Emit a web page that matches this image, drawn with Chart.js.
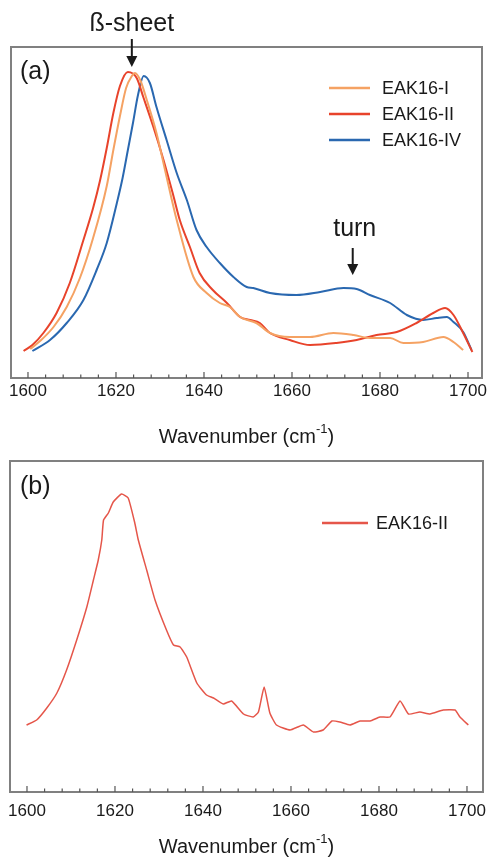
<!DOCTYPE html>
<html>
<head>
<meta charset="utf-8">
<script src="https://cdn.jsdelivr.net/npm/chart.js@4.4.1/dist/chart.umd.min.js"></script>
<style>
  html, body { margin: 0; padding: 0; background: #fff; }
  body { width: 489px; height: 857px; position: relative; overflow: hidden; }
  canvas { position: absolute; left: 0; }
  #chartA { top: 0; }
  #chartB { top: 450px; }
</style>
</head>
<body>
<canvas id="chartA" width="489" height="450"></canvas>
<canvas id="chartB" width="489" height="407"></canvas>
<script>
// define data (absorbance in arbitrary units)
const wnI = [1600.5, 1603, 1605.8, 1608.8, 1611.8, 1614.8, 1617.9, 1619.4, 1620.9, 1622.3, 1623.6, 1624.3, 1625.5, 1627, 1629.2, 1631.3, 1633.8, 1637.6, 1640.6, 1643.6, 1645.9, 1648.2, 1651.9, 1655, 1659.5, 1664.1, 1669.4, 1674, 1677.7, 1682.3, 1685.3, 1689.8, 1694.4, 1696.7, 1698.9]
const absI = [29, 38, 51, 71, 100, 140, 192, 228, 262, 290, 302, 305, 298, 278, 245, 205, 158, 101, 85, 75, 71, 61, 55, 45, 41, 41, 45, 43, 40, 40, 35, 36, 41, 36, 28]

const wnII = [1599, 1601, 1603.5, 1606.5, 1609.5, 1612.6, 1614.8, 1616.4, 1617.9, 1619.4, 1620.9, 1622.7, 1624.7, 1626.2, 1628.5, 1630.8, 1633, 1634.5, 1636.8, 1639, 1642, 1645.2, 1648.2, 1650.5, 1652.7, 1655, 1659.5, 1664.1, 1670.1, 1674.7, 1679.2, 1683.8, 1688.3, 1692.1, 1694.8, 1696.7, 1698.9, 1701]
const absII = [27, 33, 45, 65, 95, 138, 170, 198, 230, 265, 292, 306, 300, 281, 251, 218, 183, 158, 131, 105, 88, 75, 61, 58, 55, 45, 38, 33, 35, 38, 43, 46, 55, 65, 70, 63, 45, 26]

const wnIV = [1601, 1605, 1608.8, 1612.6, 1615.6, 1617.9, 1620.2, 1621.5, 1622.7, 1623.9, 1625, 1626.3, 1627.7, 1629.2, 1631.5, 1633.8, 1636.1, 1638.3, 1640.6, 1643.6, 1646.7, 1649.7, 1651.2, 1655, 1661, 1666.4, 1671.7, 1674.7, 1677.7, 1682.3, 1686.1, 1689.8, 1692.9, 1695.2, 1696.7, 1698.9, 1700.8]
const absIV = [27, 38, 55, 78, 108, 135, 175, 200, 228, 256, 283, 302, 295, 271, 238, 205, 178, 148, 131, 115, 101, 91, 90, 85, 83, 86, 90, 89, 83, 75, 63, 58, 60, 61, 56, 46, 28]

const wnB = [1599.9, 1602.2, 1604.5, 1606.8, 1609, 1611.3, 1613.6, 1615.1, 1616.2, 1617, 1617.4, 1618.5, 1619.6, 1621.5, 1623, 1624.5, 1625.3, 1627.2, 1629.1, 1631.7, 1633.3, 1634.8, 1636.3, 1638.6, 1640.8, 1642.4, 1644.6, 1646.5, 1649.2, 1651.4, 1652.6, 1653.9, 1655.2, 1656.7, 1659.8, 1662.8, 1665.1, 1667.3, 1669.3, 1671.1, 1673.4, 1675.7, 1678, 1680.2, 1682.5, 1684.8, 1686.7, 1689.3, 1691.6, 1694.6, 1697.3, 1698.4, 1700.3]
const absB = [67, 72, 84, 99, 122, 152, 185, 212, 232, 252, 272, 279, 290, 298, 294, 269, 252, 222, 192, 162, 147, 145, 135, 109, 97, 94, 88, 91, 78, 75, 80, 105, 79, 67, 62, 67, 60, 62, 71, 70, 67, 71, 71, 75, 75, 91, 78, 80, 78, 82, 82, 75, 67]

const tickValues = [1600, 1620, 1640, 1660, 1680, 1700]
const minorStep = 4
const seriesLabels = ['EAK16-I', 'EAK16-II', 'EAK16-IV']

const FONT = "'Liberation Sans', Arial, Helvetica, sans-serif"
const toPoints = (xs, ys) => xs.map((x, i) => ({ x, y: ys[i] }))

/////////////////////////////////
// plugins
/////////////////////////////////
// box round the plot, inward ticks and the axis title
const framePlugin = {
  id: 'frame',
  afterDraw(chart, args, opts) {
    const { ctx, chartArea: a } = chart
    const x = chart.scales.x
    ctx.save()
    ctx.strokeStyle = '#808080'
    ctx.lineWidth = 2
    ctx.strokeRect(a.left, a.top, a.right - a.left, a.bottom - a.top)

    ctx.strokeStyle = '#555'
    ctx.lineWidth = 1.2
    for (let w = tickValues[0]; w <= tickValues[tickValues.length - 1]; w += minorStep) {
      const px = x.getPixelForValue(w)
      const len = tickValues.includes(w) ? 6 : 3.5
      ctx.beginPath()
      ctx.moveTo(px, a.bottom)
      ctx.lineTo(px, a.bottom - len)
      ctx.stroke()
    }

    // Wavenumber (cm-1) with a real superscript
    const main = 'Wavenumber (cm'
    const sup = '-1'
    const tail = ')'
    ctx.fillStyle = '#1a1a1a'
    ctx.textBaseline = 'middle'
    ctx.textAlign = 'left'
    ctx.font = `20px ${FONT}`
    const wMain = ctx.measureText(main).width
    const wTail = ctx.measureText(tail).width
    ctx.font = `13px ${FONT}`
    const wSup = ctx.measureText(sup).width
    let cx = (a.left + a.right) / 2 - (wMain + wSup + wTail) / 2
    ctx.font = `20px ${FONT}`
    ctx.fillText(main, cx, opts.titleY)
    cx += wMain
    ctx.font = `13px ${FONT}`
    ctx.fillText(sup, cx, opts.titleY - 8)
    cx += wSup
    ctx.font = `20px ${FONT}`
    ctx.fillText(tail, cx, opts.titleY)
    ctx.restore()
  }
}

// legend inside the plot area
const insideLegend = {
  id: 'insideLegend',
  afterDraw(chart, args, opts) {
    const { ctx } = chart
    ctx.save()
    ctx.font = `18px ${FONT}`
    ctx.textBaseline = 'middle'
    ctx.textAlign = 'left'
    chart.data.datasets.forEach((ds, i) => {
      const y = opts.y + i * opts.gap
      ctx.strokeStyle = ds.borderColor
      ctx.lineWidth = 2.5
      ctx.beginPath()
      ctx.moveTo(opts.lineFrom, y)
      ctx.lineTo(opts.lineTo, y)
      ctx.stroke()
      ctx.fillStyle = '#1a1a1a'
      ctx.fillText(ds.label, opts.textX, y + 1)
    })
    ctx.restore()
  }
}

// panel letters, band labels and arrows
const notesPlugin = {
  id: 'notes',
  afterDraw(chart, args, opts) {
    const { ctx } = chart
    const x = chart.scales.x
    ctx.save()
    ctx.fillStyle = '#1a1a1a'
    ctx.strokeStyle = '#1a1a1a'
    ctx.textBaseline = 'middle'
    ctx.font = `25px ${FONT}`
    ctx.textAlign = 'left'
    ctx.fillText(opts.panel, opts.panelX, opts.panelY)
    ;(opts.bands || []).forEach(b => {
      const px = x.getPixelForValue(b.at)
      ctx.textAlign = 'center'
      ctx.fillText(b.text, px + (b.dx || 0), b.textY)
      ctx.lineWidth = 2
      ctx.beginPath()
      ctx.moveTo(px, b.arrowTop)
      ctx.lineTo(px, b.arrowBottom - 8)
      ctx.stroke()
      ctx.beginPath()
      ctx.moveTo(px - 5.5, b.arrowBottom - 11)
      ctx.lineTo(px + 5.5, b.arrowBottom - 11)
      ctx.lineTo(px, b.arrowBottom)
      ctx.closePath()
      ctx.fill()
    })
    ctx.restore()
  }
}

/////////////////////////////////
// chart setup
/////////////////////////////////
const xAxis = (min, max, height, padding) => ({
  type: 'linear',
  min,
  max,
  grid: { display: false, drawTicks: false },
  border: { display: false },
  afterBuildTicks: scale => { scale.ticks = tickValues.map(value => ({ value })) },
  afterFit: scale => {
    scale.height = height
    scale.paddingLeft = 0
    scale.paddingRight = 0
  },
  ticks: {
    padding,
    color: '#1a1a1a',
    font: { family: FONT, size: 17 },
    maxRotation: 0,
    autoSkip: false,
    callback: v => String(v)
  }
})

const yAxis = { display: false, min: 0, max: 331 }

const lineSet = (label, xs, ys, color, width) => ({
  label,
  data: toPoints(xs, ys),
  borderColor: color,
  backgroundColor: color,
  borderWidth: width,
  pointRadius: 0,
  cubicInterpolationMode: 'monotone',
  fill: false
})

const chartA = new Chart(document.getElementById('chartA'), {
  type: 'line',
  data: {
    datasets: [
      lineSet(seriesLabels[0], wnI, absI, '#F5A263', 2),
      lineSet(seriesLabels[1], wnII, absII, '#E8432B', 2),
      lineSet(seriesLabels[2], wnIV, absIV, '#2A68B0', 2)
    ]
  },
  options: {
    responsive: false,
    animation: false,
    devicePixelRatio: 1,
    layout: { padding: { top: 47, left: 11, right: 7, bottom: 0 } },
    scales: { x: xAxis(1596.14, 1703.18, 72, 3), y: yAxis },
    plugins: {
      legend: { display: false },
      tooltip: { enabled: false },
      frame: { titleY: 437 },
      insideLegend: { y: 88, gap: 26, lineFrom: 329, lineTo: 370, textX: 382 },
      notes: {
        panel: '(a)', panelX: 20, panelY: 72,
        bands: [
          { text: 'ß-sheet', at: 1623.6, textY: 24, arrowTop: 39, arrowBottom: 67 },
          { text: 'turn', at: 1673.8, dx: 2, textY: 229, arrowTop: 248, arrowBottom: 275 }
        ]
      }
    }
  },
  plugins: [framePlugin, insideLegend, notesPlugin]
})

const chartB = new Chart(document.getElementById('chartB'), {
  type: 'line',
  data: {
    datasets: [
      { ...lineSet(seriesLabels[1], wnB, absB, '#E5564A', 1.5), cubicInterpolationMode: 'default', tension: 0.15 }
    ]
  },
  options: {
    responsive: false,
    animation: false,
    devicePixelRatio: 1,
    layout: { padding: { top: 11, left: 10, right: 6, bottom: 0 } },
    scales: { x: xAxis(1596.14, 1703.64, 65, 9), y: yAxis },
    plugins: {
      legend: { display: false },
      tooltip: { enabled: false },
      frame: { titleY: 397 },
      insideLegend: { y: 73, gap: 26, lineFrom: 322, lineTo: 368, textX: 376 },
      notes: { panel: '(b)', panelX: 20, panelY: 37, bands: [] }
    }
  },
  plugins: [framePlugin, insideLegend, notesPlugin]
})
</script>
</body>
</html>
